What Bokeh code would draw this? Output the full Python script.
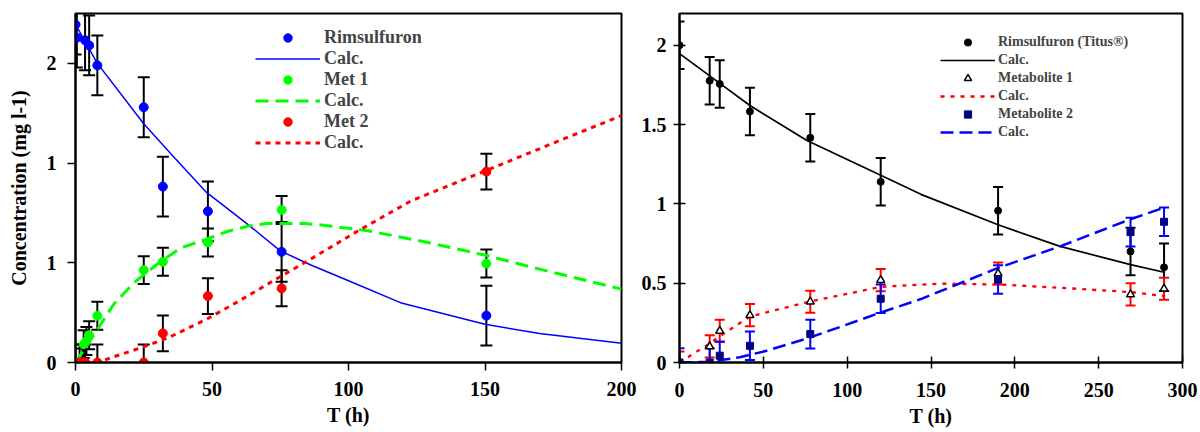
from bokeh.plotting import figure
from bokeh.layouts import row
from bokeh.models import Range1d, FixedTicker, Legend, LegendItem
from bokeh.embed import file_html
from bokeh.resources import INLINE

FONT = "Liberation Serif"

# ---------------- Left panel data ----------------
left_xticks = [0, 50, 100, 150, 200]
left_yticks = [0, 0.5, 1.0, 1.5]
left_ytick_labels = ["0", "1", "1", "2"]

rim_t = [0, 0.5, 3.5, 5, 8, 25, 32, 48.5, 75.5, 150.5]
rim_c = [1.694, 1.629, 1.616, 1.590, 1.490, 1.280, 0.882, 0.758, 0.555, 0.235]
rim_err = [0.15, 0.15, 0.15, 0.15, 0.15, 0.15, 0.15, 0.15, 0.15, 0.15]

met1_t = [0, 3, 4, 5, 8, 25, 32, 48.5, 75.5, 150.5]
met1_c = [0.0, 0.092, 0.108, 0.137, 0.234, 0.463, 0.505, 0.602, 0.765, 0.496]
met1_err = [0.07, 0.07, 0.07, 0.07, 0.07, 0.07, 0.07, 0.07, 0.07, 0.07]

met2_t = [1.5, 2.5, 3.5, 8, 25, 32, 48.5, 75.5, 150.5]
met2_c = [0.0, 0.0, 0.0, 0.0, 0.0, 0.146, 0.333, 0.372, 0.957]
met2_err = [0.09, 0.09, 0.09, 0.09, 0.09, 0.09, 0.09, 0.09, 0.09]

rim_calc_t = [0, 8, 25, 35, 48, 63, 75, 86, 100, 119, 150, 170, 200]
rim_calc_c = [1.696, 1.500, 1.197, 1.046, 0.853, 0.694, 0.560, 0.490, 0.410, 0.300, 0.192, 0.145, 0.096]

met1_calc_t = [0, 8, 14, 21.5, 30, 38.5, 47.5, 55.5, 63.5, 70, 84, 90, 107, 129, 151, 170, 200]
met1_calc_c = [0.0, 0.165, 0.292, 0.401, 0.494, 0.574, 0.616, 0.657, 0.685, 0.697, 0.697, 0.690,
               0.661, 0.602, 0.535, 0.468, 0.368]

met2_calc_t = [0, 9, 13, 24, 34, 48, 60, 72.5, 82, 104, 123, 150, 175, 200]
met2_calc_c = [0.0, 0.003, 0.024, 0.074, 0.124, 0.217, 0.309, 0.410, 0.485, 0.664, 0.811, 0.960, 1.100, 1.238]

# ---------------- Right panel data ----------------
right_xticks = [0, 50, 100, 150, 200, 250, 300]
right_yticks = [0, 0.5, 1.0, 1.5, 2.0]
right_ytick_labels = ["0", "0.5", "1", "1.5", "2"]

r_t = [0, 18, 24, 42, 78, 120, 190, 269, 289]
tit_c = [2.0, 1.776, 1.756, 1.582, 1.417, 1.139, 0.957, 0.700, 0.600]
tit_err = [0.15, 0.15, 0.15, 0.15, 0.15, 0.15, 0.15, 0.15, 0.15]
m1_c = [0.0, 0.101, 0.199, 0.298, 0.383, 0.519, 0.561, 0.429, 0.465]
m1_err = [0.07, 0.07, 0.07, 0.07, 0.07, 0.07, 0.07, 0.07, 0.07]
m2_c = [0.0, 0.0, 0.043, 0.105, 0.179, 0.402, 0.523, 0.822, 0.887]
m2_err = [0.09, 0.09, 0.09, 0.09, 0.09, 0.09, 0.09, 0.09, 0.09]

tit_calc_t = [0, 24.5, 42, 76, 120, 144, 190, 227, 269, 289]
tit_calc_c = [1.947, 1.756, 1.620, 1.400, 1.181, 1.060, 0.868, 0.732, 0.617, 0.569]

m1_calc_t = [0, 18, 24.5, 42, 78, 120, 155, 190, 227, 269, 289]
m1_calc_c = [0.0, 0.120, 0.168, 0.290, 0.385, 0.477, 0.497, 0.492, 0.471, 0.444, 0.419]

m2_calc_t = [0, 18, 36, 52, 78, 120, 144, 190, 227, 269, 289]
m2_calc_c = [0.0, 0.005, 0.033, 0.074, 0.158, 0.315, 0.400, 0.596, 0.732, 0.903, 0.976]


def style(p, xticks, yticks, ylabels, tick_in, tick_out, ystand, xstand):
    p.xgrid.visible = False
    p.ygrid.visible = False
    p.outline_line_color = "black"
    p.outline_line_width = 2
    p.outline_line_alpha = 1
    p.background_fill_color = "white"
    p.border_fill_color = "white"
    p.xaxis.ticker = FixedTicker(ticks=xticks)
    p.yaxis.ticker = FixedTicker(ticks=yticks)
    p.yaxis.major_label_overrides = {k: v for k, v in zip(yticks, ylabels)}
    for ax in (p.xaxis, p.yaxis):
        ax.axis_line_width = 2
        ax.axis_line_color = "black"
        ax.major_tick_line_width = 1.5
        ax.major_tick_line_color = "black"
        ax.major_tick_in = tick_in
        ax.major_tick_out = tick_out
        ax.minor_tick_line_color = None
        ax.major_label_text_font = FONT
        ax.major_label_text_font_style = "bold"
        ax.major_label_text_font_size = "20px"
        ax.major_label_text_color = "black"
        ax.axis_label_text_font = FONT
        ax.axis_label_text_font_style = "bold"
        ax.axis_label_text_font_size = "20px"
        ax.axis_label_text_color = "black"
    p.yaxis.major_label_standoff = ystand
    p.xaxis.major_label_standoff = xstand


def errbars(p, t, c, e, color, cap, lw):
    lo = [ci - ei for ci, ei in zip(c, e)]
    hi = [ci + ei for ci, ei in zip(c, e)]
    p.segment(x0=t, y0=lo, x1=t, y1=hi, line_color=color, line_width=lw)
    p.scatter(t, lo, marker="dash", size=cap, line_color=color, line_width=lw)
    p.scatter(t, hi, marker="dash", size=cap, line_color=color, line_width=lw)


# ================= Left figure =================
p1 = figure(width=638, height=432, x_range=Range1d(0, 200), y_range=Range1d(0, 1.75),
            output_backend="svg", toolbar_location=None,
            min_border_left=75, min_border_right=17, min_border_top=13, min_border_bottom=70)
style(p1, left_xticks, left_yticks, left_ytick_labels, 0, 8, 11, 11)
p1.xaxis.axis_label = "T (h)"
p1.xaxis.axis_label_standoff = 5
p1.yaxis.axis_label = "Concentration (mg l-1)"
p1.yaxis.axis_label_standoff = 14

errbars(p1, rim_t, rim_c, rim_err, "black", 12, 2)
errbars(p1, met1_t, met1_c, met1_err, "black", 12, 2)
errbars(p1, met2_t, met2_c, met2_err, "black", 12, 2)

l_rim = p1.line(rim_calc_t, rim_calc_c, line_color="#0000FF", line_width=1.5)
l_m1 = p1.line(met1_calc_t, met1_calc_c, line_color="#00FF00", line_width=3, line_dash="13 7")
l_m2 = p1.line(met2_calc_t, met2_calc_c, line_color="#FF0000", line_width=3, line_dash="5 5")

s_rim = p1.scatter(rim_t, rim_c, marker="circle", size=9, fill_color="#0000FF", line_color="#0000FF")
s_m1 = p1.scatter(met1_t, met1_c, marker="circle", size=9, fill_color="#00FF00", line_color="#00FF00")
s_m2 = p1.scatter(met2_t, met2_c, marker="circle", size=9, fill_color="#FF0000", line_color="#FF0000")

leg1 = Legend(items=[
    LegendItem(label="Rimsulfuron", renderers=[s_rim]),
    LegendItem(label="Calc.", renderers=[l_rim]),
    LegendItem(label="Met 1", renderers=[s_m1]),
    LegendItem(label="Calc.", renderers=[l_m1]),
    LegendItem(label="Met 2", renderers=[s_m2]),
    LegendItem(label="Calc.", renderers=[l_m2]),
], location=(180, 209), glyph_width=65, glyph_height=21, label_height=21,
    label_standoff=4, spacing=0, padding=0, margin=0,
    border_line_alpha=0, background_fill_alpha=0,
    label_text_font=FONT, label_text_font_style="bold", label_text_font_size="18px")
p1.add_layout(leg1)

# ================= Right figure =================
p2 = figure(width=562, height=432, x_range=Range1d(0, 300), y_range=Range1d(0, 2.2),
            output_backend="svg", toolbar_location=None,
            min_border_left=41, min_border_right=18, min_border_top=13, min_border_bottom=68)
style(p2, right_xticks, right_yticks, right_ytick_labels, 6, 6, 7, 14)
p2.xaxis.axis_label = "T (h)"
p2.xaxis.axis_label_standoff = 5

errbars(p2, r_t, tit_c, tit_err, "black", 10, 2)
errbars(p2, r_t, m1_c, m1_err, "#FF0000", 10, 2)
errbars(p2, r_t, m2_c, m2_err, "#0000FF", 10, 2)

l_tit = p2.line(tit_calc_t, tit_calc_c, line_color="black", line_width=1.7)
l_r1 = p2.line(m1_calc_t, m1_calc_c, line_color="#FF0000", line_width=2.3, line_dash="4 6")
l_r2 = p2.line(m2_calc_t, m2_calc_c, line_color="#0000FF", line_width=2.5, line_dash="13 6")

s_tit = p2.scatter(r_t, tit_c, marker="circle", size=7, fill_color="black", line_color="black")
s_r1 = p2.scatter(r_t, m1_c, marker="triangle", size=8, fill_color="white", line_color="black", line_width=1.5)
s_r2 = p2.scatter(r_t, m2_c, marker="square", size=7, fill_color="#000080", line_color="#000080")

leg2 = Legend(items=[
    LegendItem(label="Rimsulfuron (Titus®)", renderers=[s_tit]),
    LegendItem(label="Calc.", renderers=[l_tit]),
    LegendItem(label="Metabolite 1", renderers=[s_r1]),
    LegendItem(label="Calc.", renderers=[l_r1]),
    LegendItem(label="Metabolite 2", renderers=[s_r2]),
    LegendItem(label="Calc.", renderers=[l_r2]),
], location=(261, 221), glyph_width=55, glyph_height=18, label_height=18,
    label_standoff=3, spacing=0, padding=0, margin=0,
    border_line_alpha=0, background_fill_alpha=0,
    label_text_font=FONT, label_text_font_style="bold", label_text_font_size="14px")
p2.add_layout(leg2)

layout = row(p1, p2)
open("out.html", "w").write(file_html(layout, INLINE))
